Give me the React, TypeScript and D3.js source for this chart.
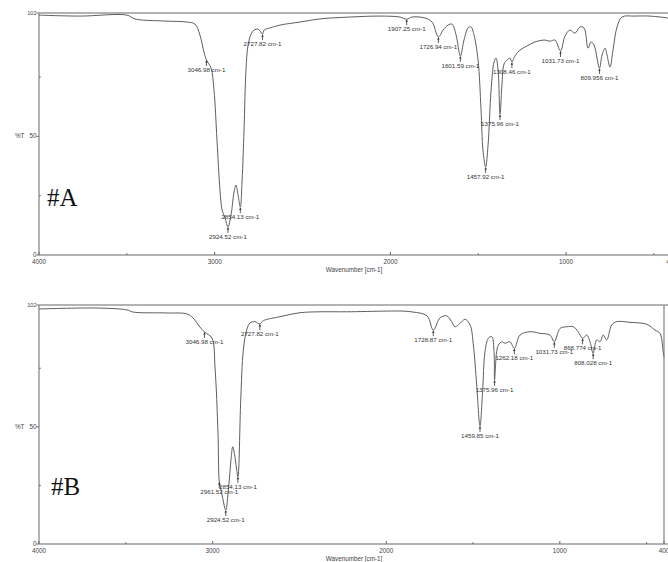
import React from "react";
import * as d3 from "d3";

// ---- Panel A spectrum (wavenumber cm-1, %T) ----
const waveA = [4000, 3767, 3499, 3454, 3283, 3158, 3112, 3084, 3061, 3047, 3021, 3004, 2987, 2970, 2958, 2941, 2924.52, 2907, 2890, 2879, 2867, 2854.13, 2844, 2833, 2822, 2810, 2793, 2776, 2753, 2742, 2727.82, 2719, 2685, 2628, 2514, 2401, 2230, 2059, 1945, 1907.25, 1877, 1803, 1763, 1726.94, 1700, 1672, 1649, 1626, 1601.59, 1581, 1558, 1541, 1524, 1501, 1484, 1473, 1457.92, 1444, 1427, 1410, 1399, 1387, 1375.96, 1365, 1353, 1336, 1319, 1308.46, 1291, 1262, 1222, 1177, 1120, 1091, 1063, 1031.73, 1006, 978, 949, 921, 898, 875, 858, 841, 809.956, 795, 778, 767, 750, 733, 710, 682, 608, 522, 465, 425, 400];
const transA = [101.1, 100.7, 101.1, 99.5, 98.6, 98.2, 97.3, 92.7, 85.5, 82.2, 78.8, 69.5, 48.5, 27.4, 19.0, 15.6, 11.8, 16.9, 26.5, 29.5, 25.3, 20.2, 31.6, 52.7, 78.0, 88.5, 93.1, 94.8, 95.2, 94.4, 93.1, 94.8, 95.7, 96.9, 98.2, 99.5, 100.3, 100.7, 100.3, 99.4, 100.3, 99.9, 98.2, 91.9, 94.8, 96.9, 97.3, 92.7, 83.9, 90.6, 95.7, 96.1, 92.7, 82.2, 61.1, 44.2, 37.1, 46.4, 69.5, 81.3, 83.0, 78.0, 59.4, 71.6, 80.5, 82.2, 83.0, 81.3, 83.9, 86.4, 88.1, 89.8, 90.6, 90.1, 90.6, 86.0, 92.3, 94.8, 93.5, 96.1, 95.7, 87.2, 89.8, 88.5, 78.8, 84.3, 87.2, 84.3, 79.2, 86.4, 96.1, 100.3, 100.7, 100.7, 100.3, 99.9, 99.0];

// ---- Panel B spectrum ----
const waveB = [4000, 3666, 3493, 3459, 3263, 3148, 3113, 3073, 3046.98, 3004, 2986, 2969, 2961.52, 2954, 2943, 2924.52, 2908, 2894, 2884, 2873, 2862, 2854.13, 2838, 2823, 2804, 2785, 2756, 2727.82, 2708, 2612, 2497, 2381, 2228, 1997, 1903, 1846, 1765, 1728.87, 1690, 1652, 1623, 1604, 1565, 1546, 1517, 1498, 1479, 1459.85, 1445, 1431, 1412, 1392, 1379, 1375.96, 1364, 1354, 1335, 1316, 1287, 1262.18, 1229, 1172, 1114, 1057, 1031.73, 999, 960, 922, 894, 868.774, 845, 826, 808.028, 788, 769, 750, 730, 701, 672, 596, 500, 452, 423, 405, 400];
const transB = [100.3, 100.7, 99.9, 99.0, 98.6, 98.2, 96.5, 92.6, 90.5, 87.9, 75.1, 47.4, 26.5, 24.0, 20.0, 14.5, 24.0, 36.0, 41.5, 38.0, 32.0, 28.7, 61.5, 82.8, 91.3, 94.3, 94.9, 93.9, 95.3, 97.0, 98.7, 99.1, 99.1, 99.4, 99.4, 99.0, 97.4, 91.3, 96.5, 97.4, 94.9, 92.7, 94.9, 95.9, 93.5, 84.9, 67.9, 50.4, 65.0, 82.1, 87.8, 88.5, 82.1, 70.0, 82.1, 84.9, 86.3, 85.7, 86.3, 83.5, 89.2, 90.6, 89.9, 89.2, 86.3, 92.0, 92.7, 92.7, 90.6, 87.8, 89.2, 86.3, 81.4, 87.1, 86.3, 89.2, 87.1, 93.5, 94.9, 94.6, 93.8, 91.3, 89.9, 82.1, 80.0];

// ---- Peak annotations ----
const peaksA = [3046.98, 2727.82, 2854.13, 2924.52, 1907.25, 1726.94, 1601.59, 1457.92, 1375.96, 1308.46, 1031.73, 809.956];
const peakLabelsA = ["3046.98 cm-1", "2727.82 cm-1", "2854.13 cm-1", "2924.52 cm-1", "1907.25 cm-1", "1726.94 cm-1", "1601.59 cm-1", "1457.92 cm-1", "1375.96 cm-1", "1308.46 cm-1", "1031.73 cm-1", "809.956 cm-1"];
const peaksB = [3046.98, 2727.82, 2961.52, 2854.13, 2924.52, 1728.87, 1459.85, 1375.96, 1262.18, 1031.73, 868.774, 808.028];
const peakLabelsB = ["3046.98 cm-1", "2727.82 cm-1", "2961.52 cm-1", "2854.13 cm-1", "2924.52 cm-1", "1728.87 cm-1", "1459.85 cm-1", "1375.96 cm-1", "1262.18 cm-1", "1031.73 cm-1", "868.774 cm-1", "808.028 cm-1"];

// ---- Axis ticks ----
const xMajorTicks = [4000, 3000, 2000, 1000, 400];
const xMinorTicks = [3500, 1500, 500];
const yMajorTicks = [0, 50, 102];
const yMinorTicks = [25, 75];

const SANS = "'Liberation Sans', Arial, sans-serif";

function interp(ws: number[], ts: number[], w: number) {
  for (let i = 0; i < ws.length - 1; i++) {
    const a = ws[i], b = ws[i + 1];
    if ((w <= a && w >= b)) {
      const t = a === b ? 0 : (a - w) / (a - b);
      return ts[i] + t * (ts[i + 1] - ts[i]);
    }
  }
  return ts[ts.length - 1];
}

type PanelProps = {
  waves: number[];
  trans: number[];
  peaks: number[];
  labels: string[];
  left: number;
  right: number;
  top: number;
  bottom: number;
  tag: string;
  tagX: number;
  tagY: number;
  showRight: boolean;
};

function Panel(p: PanelProps) {
  const x = d3.scaleLinear().domain([4000, 400]).range([p.left, p.right]);
  const y = d3.scaleLinear().domain([0, 102]).range([p.bottom, p.top]);
  const pts = p.waves.map((w, i) => [w, p.trans[i]] as [number, number]);
  const line = d3
    .line<[number, number]>()
    .x((d) => x(d[0]))
    .y((d) => y(d[1]))
    .curve(d3.curveCatmullRom.alpha(0.5));
  const frameColor = "#9a9a9a";
  const textColor = "#444";
  return (
    <g>
      {/* frame */}
      <line x1={p.left} x2={p.right + 10} y1={p.top} y2={p.top} stroke={frameColor} strokeWidth={1.5} />
      <line x1={p.left} x2={p.right + 10} y1={p.bottom} y2={p.bottom} stroke={frameColor} strokeWidth={1.5} />
      <line x1={p.left} x2={p.left} y1={p.top} y2={p.bottom} stroke={frameColor} strokeWidth={1.5} />
      {p.showRight && (
        <line x1={p.right} x2={p.right} y1={p.top} y2={p.bottom} stroke={frameColor} strokeWidth={1.5} />
      )}
      {/* x ticks */}
      {xMajorTicks.map((t) => (
        <g key={"xt" + t}>
          <line x1={x(t)} x2={x(t)} y1={p.bottom} y2={p.bottom - 3} stroke="#666" strokeWidth={1} />
          <text x={x(t)} y={p.bottom + 9} fontSize={6.3} fontFamily={SANS} fill={textColor} textAnchor="middle">
            {t}
          </text>
        </g>
      ))}
      {xMinorTicks.map((t) => (
        <line key={"xm" + t} x1={x(t)} x2={x(t)} y1={p.bottom} y2={p.bottom - 1.8} stroke="#666" strokeWidth={1} />
      ))}
      {/* y ticks */}
      {yMajorTicks.map((t) => (
        <g key={"yt" + t}>
          <line x1={p.left} x2={p.left - 2.5} y1={y(t)} y2={y(t)} stroke="#666" strokeWidth={1} />
          <text x={p.left - 2.5} y={y(t) + 2} fontSize={t === 102 ? 5.5 : 6.3} fontFamily={SANS} fill={textColor} textAnchor="end">
            {t}
          </text>
        </g>
      ))}
      {yMinorTicks.map((t) => (
        <line key={"ym" + t} x1={p.left} x2={p.left + 1.8} y1={y(t)} y2={y(t)} stroke="#666" strokeWidth={1} />
      ))}
      <text x={15} y={y(50) + 2} fontSize={6.3} fontFamily={SANS} fill={textColor}>
        %T
      </text>
      <text x={354} y={p.bottom + 17} fontSize={6.3} fontFamily={SANS} fill={textColor} textAnchor="middle">
        Wavenumber [cm-1]
      </text>
      {/* spectrum */}
      <path d={line(pts) || ""} fill="none" stroke="#5e5e5e" strokeWidth={1} />
      {/* peak markers */}
      {p.peaks.map((w, i) => {
        const px = x(w);
        const py = y(interp(p.waves, p.trans, w));
        return (
          <g key={"pk" + i}>
            <line x1={px} x2={px} y1={py + 0.5} y2={py + 6} stroke="#333" strokeWidth={0.8} />
            <path d={`M${px - 1.3},${py + 2.6} L${px + 1.3},${py + 2.6} L${px},${py + 0.6} Z`} fill="#333" />
            <text x={px} y={py + 12} fontSize={6.2} fontFamily={SANS} fill="#333" textAnchor="middle">
              {p.labels[i]}
            </text>
          </g>
        );
      })}
      <text x={p.tagX} y={p.tagY} fontSize={25} fontFamily="'Liberation Serif', 'Times New Roman', serif" fill="#111">
        {p.tag}
      </text>
    </g>
  );
}

export default function App() {
  return (
    <svg
      width={668}
      height={562}
      style={{ position: "absolute", left: 0, top: 0, background: "#fff" }}
    >
      <rect x={0} y={0} width={668} height={562} fill="#fff" />
      <Panel
        waves={waveA}
        trans={transA}
        peaks={peaksA}
        labels={peakLabelsA}
        left={39}
        right={671.5}
        top={13}
        bottom={255}
        tag="#A"
        tagX={47}
        tagY={206}
        showRight={false}
      />
      <Panel
        waves={waveB}
        trans={transB}
        peaks={peaksB}
        labels={peakLabelsB}
        left={39}
        right={664}
        top={305}
        bottom={544}
        tag="#B"
        tagX={51}
        tagY={495}
        showRight={true}
      />
    </svg>
  );
}
